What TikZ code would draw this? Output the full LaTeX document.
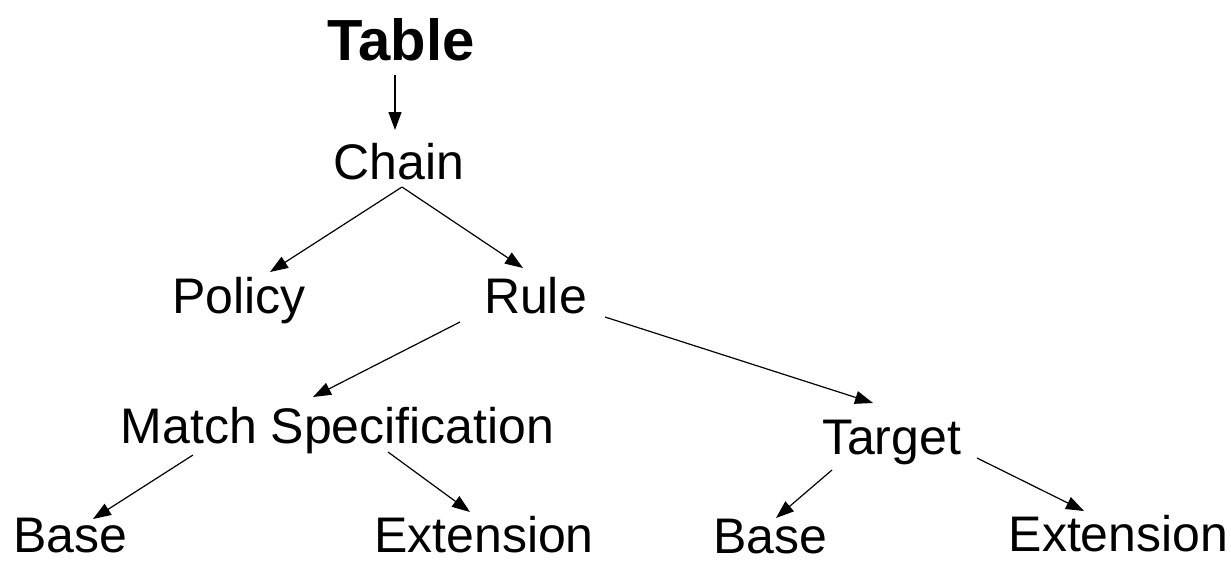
\documentclass[tikz,border=0pt]{standalone}
\usepackage{fontspec}
\setmainfont{Liberation Sans}
\usetikzlibrary{arrows.meta}
\begin{document}
\begin{tikzpicture}[x=0.5pt,y=-0.5pt,
  lbl/.style={anchor=base,inner sep=0pt,font=\fontsize{25}{30}\selectfont},
  ttl/.style={anchor=base,inner sep=0pt,font=\fontsize{29}{34}\selectfont\bfseries},
  arr/.style={line width=0.6pt,-{Triangle[length=9pt,width=6.5pt]}}]
\useasboundingbox (0,0) rectangle (1231,563);
\node[ttl] (table) at (401,60) {Table};
\node[lbl] (chain) at (399,179) {Chain};
\node[lbl] (policy) at (239,313) {Policy};
\node[lbl] (rule) at (535.5,313) {Rule};
\node[lbl] (match) at (337.5,443) {Match Specification};
\node[lbl] (target) at (891.5,454) {Target};
\node[lbl] (base1) at (70,552) {Base};
\node[lbl] (ext1) at (484,552) {Extension};
\node[lbl] (base2) at (770,553) {Base};
\node[lbl] (ext2) at (1118.5,551) {Extension};
% connectors
\draw[arr] ([shift={(-6,15)}]table.base) -- ([shift={(-4,-49)}]chain.base);
\draw[arr] ([shift={(3,8)}]chain.base) -- ([shift={(31,-41)}]policy.base);
\draw[arr] ([shift={(3,8)}]chain.base) -- ([shift={(-12.5,-45)}]rule.base);
\draw[arr] ([shift={(-75.5,9)}]rule.base) -- ([shift={(-24.5,-46)}]match.base);
\draw[arr] ([shift={(69.5,4)}]rule.base) -- ([shift={(-18.5,-51)}]target.base);
\draw[arr] ([shift={(-144.5,12)}]match.base) -- ([shift={(23,-33)}]base1.base);
\draw[arr] ([shift={(50.5,9)}]match.base) -- ([shift={(-14,-40)}]ext1.base);
\draw[arr] ([shift={(-59.5,16)}]target.base) -- ([shift={(6,-35)}]base2.base);
\draw[arr] ([shift={(85.5,4)}]target.base) -- ([shift={(-34.5,-40)}]ext2.base);
\end{tikzpicture}
\end{document}
